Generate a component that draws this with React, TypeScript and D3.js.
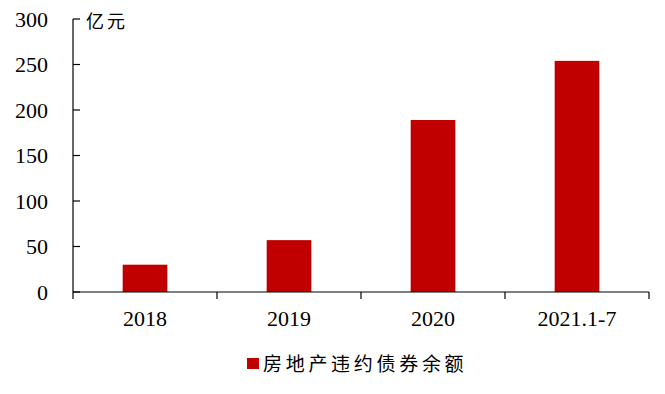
import React from "react";
import * as d3 from "d3";

const categories = ["2018", "2019", "2020", "2021.1-7"];
const values = [30, 57, 189, 254];
const yTicks = [0, 50, 100, 150, 200, 250, 300];
const unitLabel = "亿元";
const seriesName = "房地产违约债券余额";

export default function App() {
  const W = 665, H = 394;
  const left = 73, right = 649, top = 19, bottom = 292;
  const x = d3.scaleBand<string>().domain(categories).range([left, right]).paddingInner(0.69).paddingOuter(0.345);
  const y = d3.scaleLinear().domain([0, 300]).range([bottom, top]);
  const color = "#C00000";
  const serif = "'Liberation Serif', 'Times New Roman', serif";
  const cjk = "'Noto Sans CJK SC', sans-serif";
  const step = (right - left) / categories.length;
  return (
    <svg width={W} height={H} style={{ position: "absolute", left: 0, top: 0, background: "#fff" }}>
      {categories.map((c, i) => (
        <rect key={c} x={x(c)} y={y(values[i])} width={x.bandwidth()} height={bottom - y(values[i])} fill={color} />
      ))}
      <line x1={left} x2={left} y1={top} y2={bottom} stroke="#000" strokeWidth={1.2} />
      <line x1={left} x2={right} y1={bottom} y2={bottom} stroke="#000" strokeWidth={1.2} />
      {yTicks.map(t => (
        <g key={t}>
          <line x1={left} x2={left + 7} y1={y(t)} y2={y(t)} stroke="#000" strokeWidth={1.2} />
          <text x={48} y={y(t) + 7.5} textAnchor="end" fontFamily={serif} fontSize={22} fill="#000">{t}</text>
        </g>
      ))}
      {d3.range(categories.length + 1).map(i => (
        <line key={i} x1={left + i * step} x2={left + i * step} y1={bottom} y2={bottom + 7} stroke="#000" strokeWidth={1.2} />
      ))}
      {categories.map(c => (
        <text key={c} x={(x(c) as number) + x.bandwidth() / 2} y={326} textAnchor="middle" fontFamily={serif} fontSize={22} fill="#000">{c}</text>
      ))}
      <text x={86} y={28} fontFamily={cjk} fontSize={18} letterSpacing={3} fill="#000">{unitLabel}</text>
      <rect x={247} y={358} width={12} height={11} fill={color} />
      <text x={263} y={371} fontFamily={cjk} fontSize={19} letterSpacing={3.7} fill="#000">{seriesName}</text>
    </svg>
  );
}
